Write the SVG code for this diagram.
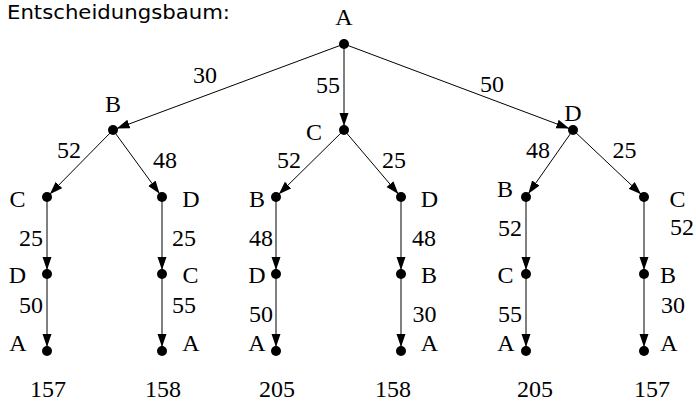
<svg xmlns="http://www.w3.org/2000/svg" width="696" height="402" viewBox="0 0 696 402">
<style>
.t{font-family:"Liberation Serif","Times New Roman",serif;font-size:24px;fill:#000;text-anchor:middle}
.title{font-family:"DejaVu Sans","Noto Sans",sans-serif;font-size:20px;fill:#000}
.e{stroke:#000;stroke-width:1;fill:none;marker-end:url(#ah)}
.d{fill:#000}
</style>
<defs>
<marker id="ah" markerUnits="userSpaceOnUse" markerWidth="14" markerHeight="10" refX="13" refY="4.5" orient="auto">
<path d="M0,0 L13,4.5 L0,9 z" fill="#000"/>
</marker>
</defs>
<rect width="696" height="402" fill="#fff"/>
<text class="title" x="7" y="18.5" textLength="223" lengthAdjust="spacingAndGlyphs">Entscheidungsbaum:</text>
<g id="connectors">
<line class="e" x1="344" y1="44" x2="116.7" y2="128.6"/>
<line class="e" x1="344" y1="44" x2="344" y2="126"/>
<line class="e" x1="344" y1="44" x2="569.3" y2="128.6"/>
<line class="e" x1="113" y1="130" x2="49.8" y2="194.2"/>
<line class="e" x1="113" y1="130" x2="159.6" y2="193.8"/>
<line class="e" x1="344" y1="130" x2="278.8" y2="194.2"/>
<line class="e" x1="344" y1="130" x2="398.4" y2="194"/>
<line class="e" x1="573" y1="130" x2="528.3" y2="193.7"/>
<line class="e" x1="573" y1="130" x2="641.1" y2="194.3"/>
<line class="e" x1="47" y1="197" x2="47" y2="270"/>
<line class="e" x1="47" y1="274" x2="47" y2="347"/>
<line class="e" x1="162" y1="197" x2="162" y2="270"/>
<line class="e" x1="162" y1="274" x2="162" y2="347"/>
<line class="e" x1="276" y1="197" x2="276" y2="270"/>
<line class="e" x1="276" y1="274" x2="276" y2="347"/>
<line class="e" x1="401" y1="197" x2="401" y2="270"/>
<line class="e" x1="401" y1="274" x2="401" y2="347"/>
<line class="e" x1="526" y1="197" x2="526" y2="270"/>
<line class="e" x1="526" y1="274" x2="526" y2="347"/>
<line class="e" x1="644" y1="197" x2="644" y2="270"/>
<line class="e" x1="644" y1="274" x2="644" y2="347"/>
</g>
<g id="edge-labels">
<text class="t" x="205" y="83">30</text>
<text class="t" x="328" y="93">55</text>
<text class="t" x="492" y="92">50</text>
<text class="t" x="69" y="158">52</text>
<text class="t" x="165" y="168">48</text>
<text class="t" x="289" y="168">52</text>
<text class="t" x="394" y="168">25</text>
<text class="t" x="538" y="158">48</text>
<text class="t" x="624.5" y="158">25</text>
<text class="t" x="31" y="246">25</text>
<text class="t" x="184" y="246">25</text>
<text class="t" x="261" y="246">48</text>
<text class="t" x="424" y="246">48</text>
<text class="t" x="510" y="236">52</text>
<text class="t" x="682" y="235">52</text>
<text class="t" x="31" y="313">50</text>
<text class="t" x="184" y="313">55</text>
<text class="t" x="261" y="322">50</text>
<text class="t" x="424.5" y="322">30</text>
<text class="t" x="510" y="322">55</text>
<text class="t" x="673" y="313">30</text>
</g>
<g id="n-A"><circle class="d" cx="344" cy="44" r="5"/><text class="t" x="344" y="25">A</text></g>
<g id="n-B"><circle class="d" cx="113" cy="130" r="5"/><text class="t" x="113" y="112">B</text></g>
<g id="n-C"><circle class="d" cx="344" cy="130" r="5"/><text class="t" x="314" y="140">C</text></g>
<g id="n-D"><circle class="d" cx="573" cy="130" r="5"/><text class="t" x="573" y="121">D</text></g>
<g id="n-BC"><circle class="d" cx="47" cy="197" r="5"/><text class="t" x="17.5" y="207">C</text></g>
<g id="n-BD"><circle class="d" cx="162" cy="197" r="5"/><text class="t" x="191" y="207">D</text></g>
<g id="n-CB"><circle class="d" cx="276" cy="197" r="5"/><text class="t" x="257" y="207">B</text></g>
<g id="n-CD"><circle class="d" cx="401" cy="197" r="5"/><text class="t" x="429.5" y="207">D</text></g>
<g id="n-DB"><circle class="d" cx="526" cy="197" r="5"/><text class="t" x="505" y="197">B</text></g>
<g id="n-DC"><circle class="d" cx="644" cy="197" r="5"/><text class="t" x="677.5" y="207">C</text></g>
<g id="n-BCD"><circle class="d" cx="47" cy="274" r="5"/><text class="t" x="17.5" y="283">D</text></g>
<g id="n-BDC"><circle class="d" cx="162" cy="274" r="5"/><text class="t" x="190.5" y="283">C</text></g>
<g id="n-CBD"><circle class="d" cx="276" cy="274" r="5"/><text class="t" x="257" y="283">D</text></g>
<g id="n-CDB"><circle class="d" cx="401" cy="274" r="5"/><text class="t" x="429" y="283">B</text></g>
<g id="n-DBC"><circle class="d" cx="526" cy="274" r="5"/><text class="t" x="505.5" y="283">C</text></g>
<g id="n-DCB"><circle class="d" cx="644" cy="274" r="5"/><text class="t" x="668" y="283">B</text></g>
<g id="n-BCDA"><circle class="d" cx="47" cy="351" r="5"/><text class="t" x="18" y="351">A</text></g>
<g id="n-BDCA"><circle class="d" cx="162" cy="351" r="5"/><text class="t" x="191" y="351">A</text></g>
<g id="n-CBDA"><circle class="d" cx="276" cy="351" r="5"/><text class="t" x="257" y="351">A</text></g>
<g id="n-CDBA"><circle class="d" cx="401" cy="351" r="5"/><text class="t" x="429.5" y="351">A</text></g>
<g id="n-DBCA"><circle class="d" cx="526" cy="351" r="5"/><text class="t" x="506" y="351">A</text></g>
<g id="n-DCBA"><circle class="d" cx="644" cy="351" r="5"/><text class="t" x="669" y="351">A</text></g>
<g id="totals">
<text class="t" x="48" y="397">157</text>
<text class="t" x="163" y="397">158</text>
<text class="t" x="277" y="397">205</text>
<text class="t" x="393" y="397">158</text>
<text class="t" x="535" y="397">205</text>
<text class="t" x="652" y="397">157</text>
</g>
</svg>
